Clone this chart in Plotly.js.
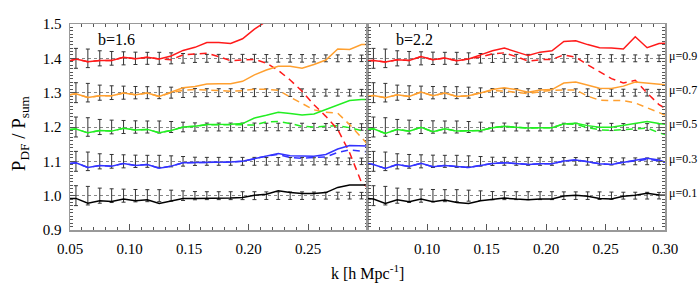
<!DOCTYPE html>
<html>
<head>
<meta charset="utf-8">
<script src="https://cdn.plot.ly/plotly-3.0.1.min.js"></script>
<style>html,body{margin:0;padding:0;background:#fff;}#chart{width:700px;height:292px;}</style>
</head>
<body>
<div id="chart"></div>
<script>
// ---- data ----
const kLine = [0.05,0.055,0.065,0.075,0.085,0.095,0.105,0.115,0.125,0.135,0.145,0.155,0.165,0.175,0.185,0.195,0.205,0.215,0.225,0.235,0.245,0.255,0.265,0.275,0.285,0.295,0.30];
const kErr = [0.055,0.065,0.075,0.085,0.095,0.105,0.115,0.125,0.135,0.145,0.155,0.165,0.175,0.185,0.195,0.205,0.215,0.225,0.235,0.245,0.255,0.265,0.275,0.285,0.295];
const errHalf = [0.029,0.027,0.022,0.020,0.019,0.018,0.0175,0.0175,0.016,0.014,0.012,0.0115,0.0115,0.0115,0.0115,0.0115,0.011,0.011,0.011,0.011,0.0105,0.010,0.010,0.0098,0.0095];
const levels = [1.0, 1.1, 1.2, 1.3, 1.4];
const muLabels = ['μ=0.1','μ=0.3','μ=0.5','μ=0.7','μ=0.9'];
const colors = ['#000000','#3333ff','#22ee22','#ffa030','#ff1a1a'];
const panelLabels = ['b=1.6','b=2.2'];

// b = 1.6 (left panel)
const b16_mu01_solid = [0.992,0.992,0.978,0.985,0.983,0.990,0.985,0.988,0.977,0.984,0.992,0.992,0.992,0.994,0.993,0.995,1.001,1.004,1.014,1.009,1.006,1.006,1.009,1.024,1.031,1.031,1.031];
const b16_mu03_solid = [1.094,1.096,1.082,1.088,1.086,1.094,1.088,1.091,1.080,1.086,1.096,1.096,1.098,1.098,1.098,1.100,1.108,1.115,1.123,1.116,1.115,1.115,1.120,1.136,1.146,1.146,1.145];
const b16_mu03_dash  = [1.094,1.096,1.082,1.088,1.086,1.094,1.088,1.091,1.080,1.086,1.096,1.096,1.098,1.098,1.098,1.100,1.108,1.115,1.120,1.111,1.109,1.110,1.113,1.126,1.133,1.130,1.128];
const b16_mu05_solid = [1.193,1.194,1.183,1.190,1.188,1.196,1.191,1.193,1.183,1.190,1.200,1.202,1.207,1.207,1.208,1.210,1.226,1.234,1.243,1.239,1.235,1.238,1.251,1.265,1.277,1.280,1.280];
const b16_mu05_dash  = [1.193,1.194,1.183,1.190,1.188,1.196,1.191,1.193,1.183,1.190,1.200,1.202,1.207,1.207,1.208,1.206,1.206,1.215,1.216,1.210,1.202,1.200,1.201,1.204,1.198,1.188,1.185];
const b16_mu07_solid = [1.294,1.297,1.286,1.291,1.291,1.299,1.294,1.299,1.289,1.301,1.314,1.318,1.325,1.326,1.326,1.333,1.352,1.366,1.377,1.377,1.371,1.382,1.395,1.427,1.426,1.440,1.440];
const b16_mu07_dash  = [1.294,1.297,1.286,1.291,1.291,1.299,1.294,1.299,1.289,1.300,1.307,1.309,1.308,1.305,1.304,1.306,1.310,1.310,1.307,1.287,1.269,1.250,1.243,1.240,1.207,1.170,1.150];
const b16_mu09_solid = [1.393,1.398,1.390,1.394,1.394,1.403,1.399,1.403,1.398,1.407,1.423,1.432,1.446,1.446,1.443,1.457,1.485,1.508,1.54,1.57,1.60,1.63,1.66,1.70,1.73,1.76,1.77];
const b16_mu09_dash  = [1.393,1.398,1.390,1.394,1.394,1.403,1.399,1.403,1.398,1.396,1.410,1.413,1.415,1.405,1.393,1.395,1.397,1.386,1.365,1.337,1.304,1.265,1.231,1.193,1.125,1.038,1.025];

// b = 2.2 (right panel)
const b22_mu01_solid = [0.992,0.990,0.977,0.988,0.982,0.990,0.982,0.987,0.980,0.977,0.985,0.990,0.993,0.990,0.988,0.990,0.990,0.999,1.001,0.998,0.992,0.990,0.998,1.001,1.007,1.002,1.001];
const b22_mu03_solid = [1.094,1.091,1.079,1.091,1.085,1.094,1.084,1.088,1.085,1.082,1.088,1.094,1.096,1.093,1.091,1.093,1.093,1.101,1.104,1.099,1.093,1.091,1.098,1.103,1.109,1.104,1.098];
const b22_mu03_dash  = [1.094,1.091,1.079,1.091,1.085,1.094,1.084,1.088,1.085,1.082,1.088,1.094,1.096,1.093,1.091,1.093,1.093,1.101,1.104,1.099,1.093,1.091,1.098,1.101,1.106,1.101,1.097];
const b22_mu05_solid = [1.193,1.195,1.181,1.193,1.188,1.199,1.186,1.195,1.188,1.190,1.190,1.198,1.202,1.199,1.197,1.198,1.198,1.209,1.211,1.204,1.199,1.199,1.204,1.210,1.216,1.210,1.208];
const b22_mu05_dash  = [1.193,1.195,1.181,1.193,1.188,1.199,1.186,1.195,1.188,1.190,1.190,1.198,1.202,1.199,1.197,1.198,1.198,1.209,1.208,1.198,1.192,1.190,1.192,1.195,1.197,1.183,1.178];
const b22_mu07_solid = [1.289,1.292,1.285,1.294,1.289,1.302,1.291,1.299,1.289,1.291,1.299,1.309,1.314,1.309,1.301,1.308,1.309,1.328,1.331,1.323,1.313,1.312,1.319,1.331,1.327,1.325,1.323];
const b22_mu07_dash  = [1.289,1.292,1.285,1.294,1.289,1.302,1.291,1.299,1.289,1.291,1.300,1.306,1.305,1.300,1.297,1.303,1.307,1.308,1.308,1.290,1.278,1.277,1.277,1.270,1.256,1.240,1.235];
const b22_mu09_solid = [1.393,1.394,1.389,1.396,1.394,1.405,1.396,1.401,1.393,1.398,1.410,1.422,1.430,1.420,1.408,1.418,1.422,1.449,1.451,1.440,1.431,1.430,1.427,1.463,1.431,1.443,1.444];
const b22_mu09_dash  = [1.393,1.394,1.389,1.396,1.394,1.405,1.396,1.401,1.393,1.398,1.404,1.413,1.416,1.405,1.392,1.396,1.397,1.410,1.403,1.381,1.362,1.341,1.328,1.336,1.299,1.265,1.255];

const xTicksLeft = [0.05,0.10,0.15,0.20,0.25];
const xTicksRight = [0.10,0.15,0.20,0.25,0.30];

// ---- build ----
const panels = [
  {xa:'x',  ya:'y',  solid:[b16_mu01_solid,b16_mu03_solid,b16_mu05_solid,b16_mu07_solid,b16_mu09_solid],
                     dash:[null,b16_mu03_dash,b16_mu05_dash,b16_mu07_dash,b16_mu09_dash]},
  {xa:'x2', ya:'y2', solid:[b22_mu01_solid,b22_mu03_solid,b22_mu05_solid,b22_mu07_solid,b22_mu09_solid],
                     dash:[null,b22_mu03_dash,b22_mu05_dash,b22_mu07_dash,b22_mu09_dash]}
];

const traces = [];
panels.forEach(p => {
  levels.forEach(lv => {
    traces.push({
      x:kErr, y:kErr.map(()=>lv), xaxis:p.xa, yaxis:p.ya, type:'scatter', mode:'markers',
      marker:{size:2, color:'rgba(0,0,0,0)'},
      error_y:{type:'data', array:errHalf, visible:true, color:'#333333', thickness:1, width:2},
      hoverinfo:'skip'
    });
  });
  p.dash.forEach((ys,i) => {
    if (!ys) return;
    traces.push({x:kLine, y:ys, xaxis:p.xa, yaxis:p.ya, type:'scatter', mode:'lines',
      line:{color:colors[i], width:1.5, dash:'7px,5px'}});
  });
  p.solid.forEach((ys,i) => {
    traces.push({x:kLine, y:ys, xaxis:p.xa, yaxis:p.ya, type:'scatter', mode:'lines',
      line:{color:colors[i], width:1.5}});
  });
});

const fontFam = '"Liberation Serif", "Times New Roman", serif';
const xCommon = {
  range:[0.05,0.30], ticks:'inside', ticklen:6, tickcolor:'#555', tickwidth:1,
  showline:true, linecolor:'#999', linewidth:1.5, mirror:'allticks',
  showgrid:false, zeroline:false, tickmode:'array', ticklabelstandoff:4,
  minor:{tickmode:'linear', tick0:0.05, dtick:0.01, ticklen:3, ticks:'inside', tickcolor:'#555', showgrid:false},
  tickfont:{family:fontFam, size:15, color:'#000'}
};
const yCommon = {
  range:[0.9,1.5], tickmode:'linear', tick0:0.9, dtick:0.1, tickformat:'.1f',
  ticks:'inside', ticklen:6, tickcolor:'#555', tickwidth:1,
  showline:true, linecolor:'#999', linewidth:1.5, mirror:'allticks',
  showgrid:true, gridcolor:'#888', griddash:'dot', gridwidth:1, zeroline:false,
  minor:{dtick:0.01, ticklen:3, ticks:'inside', tickcolor:'#555', showgrid:false},
  tickfont:{family:fontFam, size:15, color:'#000'}, ticklabelstandoff:4
};

const annotations = [];
panelLabels.forEach((t,i) => {
  annotations.push({text:t, xref: i===0?'x':'x2', yref:'y', x:0.0894, y:1.454,
    showarrow:false, xanchor:'center', yanchor:'middle', font:{family:fontFam, size:16, color:'#000'}});
});
levels.forEach((lv,i) => {
  annotations.push({text:muLabels[i], xref:'x2', yref:'y', x:0.30, y:lv+0.008, xanchor:'left', yanchor:'middle',
    xshift:2, showarrow:false, font:{family:fontFam, size:12, color:'#000'}});
});
annotations.push({text:'k [h Mpc<sup>-1</sup>]', xref:'paper', yref:'paper', x:0.5, y:-0.204,
  xanchor:'center', yanchor:'middle', showarrow:false, font:{family:fontFam, size:16, color:'#000'}});
annotations.push({text:'P<sub>DF</sub> / P<sub>sum</sub>', xref:'paper', yref:'paper', x:-0.084, y:0.47,
  xanchor:'center', yanchor:'middle', textangle:-90, showarrow:false, font:{family:fontFam, size:19, color:'#000'}});

const layout = {
  width:700, height:292,
  margin:{l:70, r:35, t:24, b:62, pad:0},
  paper_bgcolor:'#fff', plot_bgcolor:'#fff',
  showlegend:false,
  font:{family:fontFam, size:15, color:'#000'},
  xaxis:Object.assign({}, xCommon, {domain:[0,0.5], anchor:'y', tickvals:xTicksLeft, ticktext:xTicksLeft.map(v=>v.toFixed(2))}),
  xaxis2:Object.assign({}, xCommon, {domain:[0.5,1], anchor:'y2', tickvals:xTicksRight, ticktext:xTicksRight.map(v=>v.toFixed(2))}),
  yaxis:Object.assign({}, yCommon, {anchor:'x'}),
  yaxis2:Object.assign({}, yCommon, {anchor:'x2', showticklabels:false}),
  annotations:annotations
};

Plotly.newPlot('chart', traces, layout, {displayModeBar:false, staticPlot:true});
</script>
</body>
</html>
